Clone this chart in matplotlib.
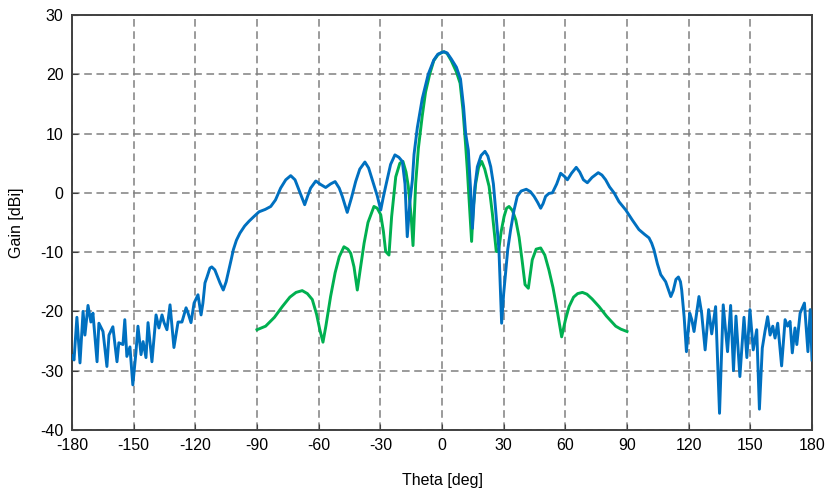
import matplotlib
matplotlib.use("Agg")
import matplotlib.pyplot as plt

plt.rcParams['font.family'] = ['Liberation Sans', 'DejaVu Sans']
plt.rcParams['axes.unicode_minus'] = False

# blue trace (full sphere cut)
blue_theta = [
    -180, -179, -177.6, -176.1, -174.6, -173.7, -172.2, -170.8, -169.8, -167.8,
    -166.9, -164.9, -163, -162, -160.1, -158.1, -157.2, -155.2, -154.3, -153.3,
    -151.8, -150.4, -148.9, -147.9, -146.4, -145.4, -144, -143, -141.1, -139.1,
    -137.7, -136.2, -135.2, -133.8, -132.3, -130.4, -128.4, -126.5, -124.5, -123.6,
    -122.1, -120.6, -118.7, -117.2, -116.3, -115.3, -114.3, -112.9, -112, -110.5,
    -109.6, -108, -106.4, -105, -104, -102.5, -101.5, -100, -98.3, -96,
    -93.9, -91.5, -89, -86, -83.3, -81, -78.5, -76, -73.6, -71.5,
    -69.6, -66.8, -65.3, -63.9, -61.4, -59, -56.6, -54.2, -52, -50,
    -48.5, -46.1, -44, -42, -40, -37.5, -35.7, -33.9, -31.5, -29.8,
    -28.6, -27.4, -25, -22.9, -21, -19.3, -18, -16.9, -15.6, -14.4,
    -13.6, -12, -9.6, -6.7, -4, -2, 0, 1, 2.5, 4.5,
    7, 9, 10.5, 11.5, 12.8, 14, 14.8, 16, 17.2, 19,
    20.9, 22.3, 23.7, 25, 26.1, 27.7, 29, 30, 30.6, 32,
    33.4, 35, 36.6, 38.5, 41, 43, 44.8, 46.5, 48, 49.2,
    50.4, 52, 53.7, 55.8, 57.7, 59.5, 61, 63, 65.3, 67,
    68.8, 70.7, 73, 76, 77.8, 79.6, 81.5, 83.7, 86.1, 89.4,
    92.6, 95.8, 98.5, 100.7, 102, 103.1, 104.8, 106.4, 108.8, 110,
    111.3, 112.5, 113.8, 115, 116, 116.6, 117.8, 118.9, 120.5, 121.5,
    122.6, 125, 126.3, 128, 129.7, 131.2, 133.1, 135, 136.8, 138.9,
    140.4, 141.8, 143, 144.9, 146.9, 148.3, 149.8, 151.4, 153.1, 154.4,
    155.8, 157.1, 158.4, 159.6, 160.9, 162, 163.3, 165.2, 166.9, 168.1,
    169.3, 170.4, 171.7, 172.6, 174.2, 176.3, 178, 179.1, 180,
]
blue_gain = [
    -27.5, -28.2, -21, -28.7, -20, -24, -19, -21.8, -20.3, -28.5,
    -22, -23.4, -29.3, -24, -22.6, -28.5, -25.3, -25.6, -21.4, -27.6,
    -26, -32.4, -27, -22.5, -27.3, -25.1, -27.8, -21.9, -28.5, -20.6,
    -22.8, -20.6, -21.9, -23.1, -18.9, -26.1, -21.8, -21.8, -19.4, -20.2,
    -21.9, -18.6, -17.2, -20.6, -18.6, -15.2, -14.2, -12.7, -12.5, -13,
    -13.8, -15.2, -16.4, -15, -13.5, -11.2, -9.6, -8, -6.8, -5.6,
    -4.8, -4, -3.2, -2.8, -2.3, -1.2, 0.8, 2.2, 2.9, 2.2,
    0.5, -2.0, -0.5, 0.8, 2.0, 1.4, 0.9, 1.5, 1.9, 0.8,
    -0.6, -3.3, -0.8, 1.9, 4, 5.2, 4.2, 2.2, -0.5, -2.9,
    -0.8, 1.1, 4.8, 6.4, 6.0, 5.3, 1.5, -7.4, -1.5, 2.2,
    6.5, 11.0, 15.9, 20, 22.4, 23.4, 23.7, 23.8, 23.6, 22.6,
    21.2, 19.2, 14.5, 10, 7.2, 0, -6.0, 1, 4.4, 6.3,
    7.0, 6.2, 4.4, 1.5, -2.9, -9.6, -22, -17, -14.7, -9.5,
    -6.2, -3, -0.6, 0.3, 0.6, 0.2, -0.6, -1.6, -2.6, -1.8,
    -0.6, -0.1, 0, 1.5, 3.3, 2.8, 2.2, 3.3, 4.3, 3.5,
    2.2, 1.7, 2.6, 3.4, 3.0, 2.2, 1.0, 0, -1.5, -2.9,
    -4.6, -6.2, -7.0, -7.6, -8.5, -9.6, -12, -13.8, -15, -16.2,
    -17.5, -16.5, -14.6, -14.2, -15, -16.4, -21, -26.8, -20.3, -21.4,
    -23.4, -17.5, -20.3, -26.5, -19.7, -23.8, -19.2, -37.2, -18.9, -26.8,
    -19.0, -30, -20.8, -31, -21, -27.8, -19.7, -26.5, -23.1, -36.5,
    -26.2, -23.4, -20.9, -24, -22.5, -24.5, -22, -29.2, -21.4, -22.5,
    -21.7, -27.0, -22.8, -25.6, -20.3, -18.6, -26.8, -19.7, -28.2,
]

# green trace (-90..90 only)
green_theta = [
    -90, -85.8, -81.5, -77.7, -74, -71, -68, -65.5, -63.1, -61,
    -59.5, -57.9, -56.5, -54.2, -52, -50, -47.7, -45.8, -44.4, -42.8,
    -41.2, -39.8, -37.9, -36, -33.1, -31.5, -29.8, -28.5, -27.4, -25.8,
    -24.5, -22.5, -20.5, -19, -17.5, -16.4, -15, -14.1, -12.8, -11.5,
    -9.6, -8, -6, -4, -2, 0, 1, 2.5, 4.5, 7,
    8.8, 10.2, 11.5, 12.3, 13.5, 14.4, 15.2, 16.4, 17.8, 19.3,
    20.8, 22.9, 24.5, 26.4, 27.5, 28.8, 30.2, 31.4, 32.6, 34.3,
    35.9, 37.5, 39, 40.4, 42, 43.9, 45.8, 48, 50, 52,
    54, 56, 58.2, 60, 61.8, 64, 66, 68.3, 70.5, 73,
    76.4, 80, 84.5, 87, 90,
]
green_gain = [
    -23.1, -22.5, -21, -19.2, -17.6, -16.8, -16.5, -17, -18.0, -20.5,
    -23, -25.2, -22.5, -17.5, -13.5, -10.8, -9.1, -9.5, -10.2, -12.5,
    -16.4, -13, -8.5, -5, -2.3, -2.6, -3.7, -6.5, -9.9, -10.5,
    -4, 2.7, 5, 5.3, 3.5, 1.1, -4, -8.9, 1.6, 7.5,
    13, 17, 20, 22.3, 23.3, 23.7, 23.8, 23.5, 22.3, 20.4,
    18.5, 14, 8, 4, -3, -8.2, -2.5, 1.6, 4.3, 5.3,
    4, 1.1, -3.5, -9.9, -9.9, -6.5, -4.0, -2.6, -2.3, -3.0,
    -4.6, -7.5, -11.5, -15.5, -16.1, -11.3, -9.5, -9.3, -10.5, -13,
    -16, -19.8, -24.3, -21.5, -19.2, -17.6, -17, -16.8, -17.1, -17.9,
    -19.2, -20.8, -22.5, -23, -23.4,
]

x_ticks = list(range(-180, 181, 30))
y_ticks = list(range(-40, 31, 10))

fig = plt.figure(figsize=(8.32, 4.93), dpi=100)
ax = fig.add_axes([0.0865, 0.128, 0.8895, 0.8415])

ax.plot(blue_theta, blue_gain, color='#0070C0', lw=2.1, zorder=3)
ax.plot(green_theta, green_gain, color='#00B050', lw=2.1, zorder=2)

ax.set_xlim(-180, 180)
ax.set_ylim(-40, 30)
ax.set_xticks(x_ticks)
ax.set_yticks(y_ticks)
ax.grid(True, color='#808080', lw=1.1, linestyle=(0, (5, 3)))
ax.set_axisbelow(True)

for sp in ax.spines.values():
    sp.set_color('#404040')
    sp.set_linewidth(1.4)
ax.tick_params(direction='in', length=4, width=0.8, colors='#404040',
               labelcolor='black', labelsize=11.5, pad=6)

ax.set_xlabel('Theta [deg]', fontsize=11.5, labelpad=14)
ax.set_ylabel('Gain [dBi]', fontsize=11.5, labelpad=12)

fig.savefig('out.png', dpi=100)
